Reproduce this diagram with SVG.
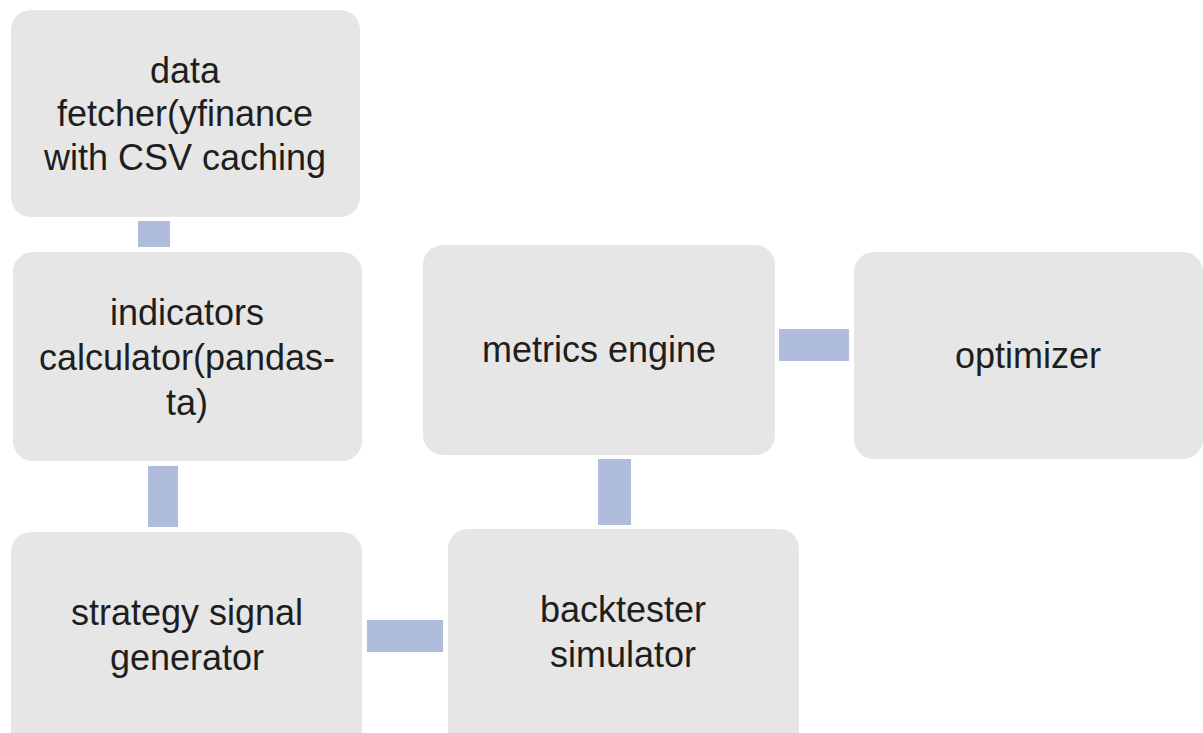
<svg xmlns="http://www.w3.org/2000/svg" width="1203" height="733" viewBox="0 0 1203 733">
<style>
.node{fill:#e6e6e6;}
.lbl{font-family:"Liberation Sans",Arial,sans-serif;font-size:36px;fill:#1e1e1e;text-anchor:middle;}
.conn{fill:#b0bcdc;}
</style>
<rect width="1203" height="733" fill="#ffffff"/>
<g id="connectors">
<rect class="conn" x="138" y="221" width="32" height="26"/>
<rect class="conn" x="148" y="466" width="30" height="61"/>
<rect class="conn" x="367" y="620" width="76" height="32"/>
<rect class="conn" x="598" y="459" width="33" height="66"/>
<rect class="conn" x="779" y="329" width="70" height="32"/>
</g>
<g id="node-data-fetcher">
<rect class="node" x="11" y="10" width="349" height="207" rx="20"/>
<text class="lbl" x="185" y="83">data</text>
<text class="lbl" x="185" y="126">fetcher(yfinance</text>
<text class="lbl" x="185" y="170">with CSV caching</text>
</g>
<g id="node-indicators">
<rect class="node" x="13" y="252" width="349" height="209" rx="20"/>
<text class="lbl" x="187" y="325">indicators</text>
<text class="lbl" x="187" y="370">calculator(pandas-</text>
<text class="lbl" x="187" y="415">ta)</text>
</g>
<g id="node-strategy">
<rect class="node" x="11" y="532" width="351" height="230" rx="20"/>
<text class="lbl" x="187" y="625">strategy signal</text>
<text class="lbl" x="187" y="670">generator</text>
</g>
<g id="node-backtester">
<rect class="node" x="448" y="529" width="351" height="230" rx="20"/>
<text class="lbl" x="623" y="622">backtester</text>
<text class="lbl" x="623" y="667">simulator</text>
</g>
<g id="node-metrics">
<rect class="node" x="423" y="245" width="352" height="210" rx="20"/>
<text class="lbl" x="599" y="362">metrics engine</text>
</g>
<g id="node-optimizer">
<rect class="node" x="854" y="252" width="349" height="207" rx="20"/>
<text class="lbl" x="1028" y="368">optimizer</text>
</g>
</svg>
